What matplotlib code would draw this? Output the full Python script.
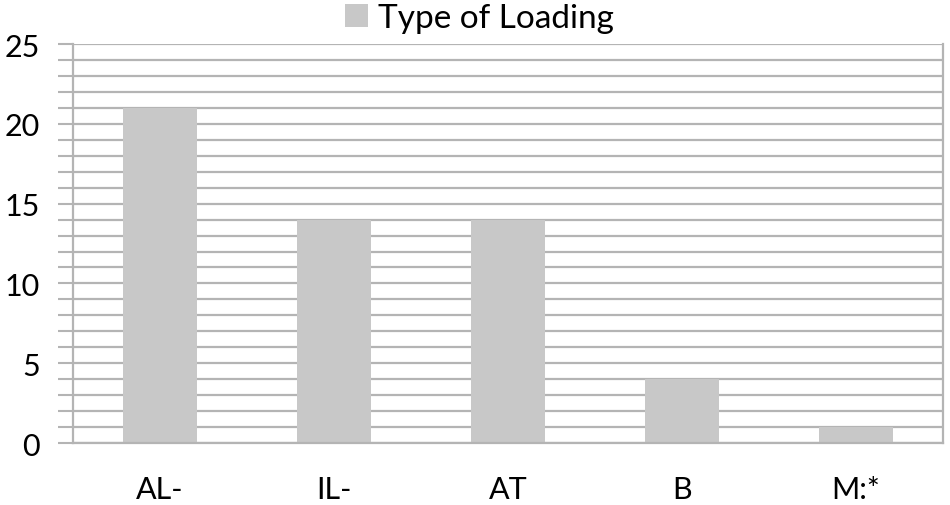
import numpy as np
from matplotlib import pyplot as plt
from matplotlib.patches import Patch

# data
categories = ['AL-', 'IL-', 'AT', 'B', 'M:*']
counts = [21, 14, 14, 4, 1]
series_name = 'Type of Loading'

plt.rcParams['font.family'] = ['Lato', 'DejaVu Sans']

grid_col = '#b4b4b4'
bar_col = '#c8c8c8'

fig = plt.figure(figsize=(9.5, 5.06), dpi=100)
ax = fig.add_axes([0.0768, 0.1225, 0.9158, 0.7885])

x = np.arange(len(categories))
ax.bar(x, counts, width=0.42, color=bar_col, zorder=2)

ax.set_xlim(-0.5, len(categories) - 0.5)
ax.set_ylim(0, 25)
ax.set_yticks(np.arange(0, 26, 5))
ax.set_yticks(np.arange(0, 26, 1), minor=True)
ax.set_xticks(x)
ax.set_xticklabels(categories)

for y in range(0, 26):
    ax.axhline(y, color=grid_col, linewidth=1.6, zorder=1)

ax.tick_params(axis='y', which='both', length=11, width=1.5, color=grid_col,
               labelsize=22, pad=13)
ax.tick_params(axis='x', length=0, labelsize=22, pad=23)

ax.spines['top'].set_visible(False)
for side in ['left', 'right', 'bottom']:
    ax.spines[side].set_color(grid_col)
    ax.spines[side].set_linewidth(1.6)

handle = Patch(facecolor=bar_col, edgecolor='none')
fig.legend([handle], [series_name], loc='center', bbox_to_anchor=(0.505, 0.962),
           frameon=False, fontsize=24, handlelength=0.7, handleheight=0.7,
           handletextpad=0.3, borderpad=0.2)

fig.savefig('out.png', dpi=100)
